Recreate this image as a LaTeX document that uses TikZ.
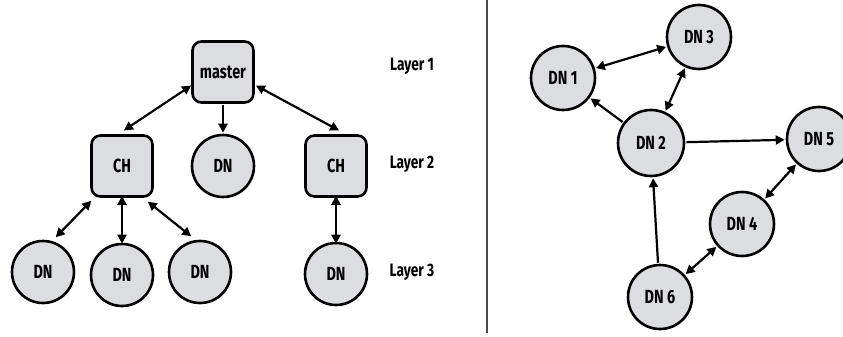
\documentclass[tikz,border=0pt]{standalone}
\usepackage{fontspec}
\setmainfont{Fira Sans}[FakeStretch=0.76]
\usetikzlibrary{arrows.meta}
\definecolor{nodefill}{HTML}{DCDDE1}
\tikzset{
  dn/.style={circle,draw=black,line width=2.6pt,fill=nodefill,minimum size=62pt,inner sep=0pt,font=\fontsize{19}{19}\selectfont\bfseries},
  box/.style={rectangle,rounded corners=9pt,draw=black,line width=2.6pt,fill=nodefill,minimum size=61pt,inner sep=0pt,font=\fontsize{19}{19}\selectfont\bfseries},
  lay/.style={font=\fontsize{18}{18}\selectfont\bfseries},
  conn/.style={line width=2.2pt,shorten >=1pt,shorten <=1pt,-{Triangle[length=9pt,width=9pt]}},
  bconn/.style={line width=2.2pt,shorten >=1pt,shorten <=1pt,{Triangle[length=9pt,width=9pt]}-{Triangle[length=9pt,width=9pt]}}
}
\begin{document}
\begin{tikzpicture}[x=1pt,y=-1pt]
\useasboundingbox[fill=white] (0,0) rectangle (843,337);
% left tree
\node[box] (m) at (223,72) {master};
\node[box] (ch1) at (122,166) {CH};
\node[dn] (dnm) at (223,166) {DN};
\node[box] (ch2) at (336,166) {CH};
\node[dn] (b1) at (43,272) {DN};
\node[dn] (b2) at (122,275) {DN};
\node[dn] (b3) at (200,272) {DN};
\node[dn] (b4) at (336,274) {DN};
\node[lay] (l1) at (412,66) {Layer 1};
\node[lay] (l2) at (412,164) {Layer 2};
\node[lay] (l3) at (412,272) {Layer 3};
\coordinate (ma) at (192,85); \coordinate (mb) at (255,85);
\coordinate (c1t) at (123,131); \coordinate (c2t) at (340,131);
\draw[bconn] (ma) -- (c1t);
\draw[conn] (m.south) -- (dnm.north);
\draw[bconn] (mb) -- (c2t);
\coordinate (c1a) at (92,200); \coordinate (c1c) at (147,201);
\coordinate (b1t) at (55,238); \coordinate (b3t) at (192,237);
\draw[bconn] (c1a) -- (b1t);
\draw[bconn] ([yshift=3pt]ch1.south) -- ([yshift=-2pt]b2.north);
\draw[bconn] (c1c) -- (b3t);
\draw[bconn] ([yshift=3pt]ch2.south) -- ([yshift=-3pt]b4.north);
% divider
\coordinate (dt) at (487,0); \coordinate (db) at (487,333);
\draw[line width=1.2pt,black!70] (dt) -- (db);
% right graph
\node[dn,minimum size=64pt] (d1) at (563,78) {DN 1};
\node[dn,minimum size=64pt] (d3) at (699,37) {DN 3};
\node[dn,minimum size=66pt] (d2) at (651,143) {DN 2};
\node[dn,minimum size=64pt] (d5) at (819,139) {DN 5};
\node[dn,minimum size=64pt] (d4) at (742,224) {DN 4};
\node[dn,minimum size=64pt] (d6) at (660,297) {DN 6};
\draw[bconn] (d1) -- (d3);
\draw[conn] (d2) -- (d1);
\draw[bconn] (d2) -- (d3);
\draw[conn] (d2) -- (d5);
\draw[bconn] (d4) -- (d5);
\draw[conn] (d6) -- (d2);
\draw[bconn] (d6) -- (d4);
\end{tikzpicture}
\end{document}
